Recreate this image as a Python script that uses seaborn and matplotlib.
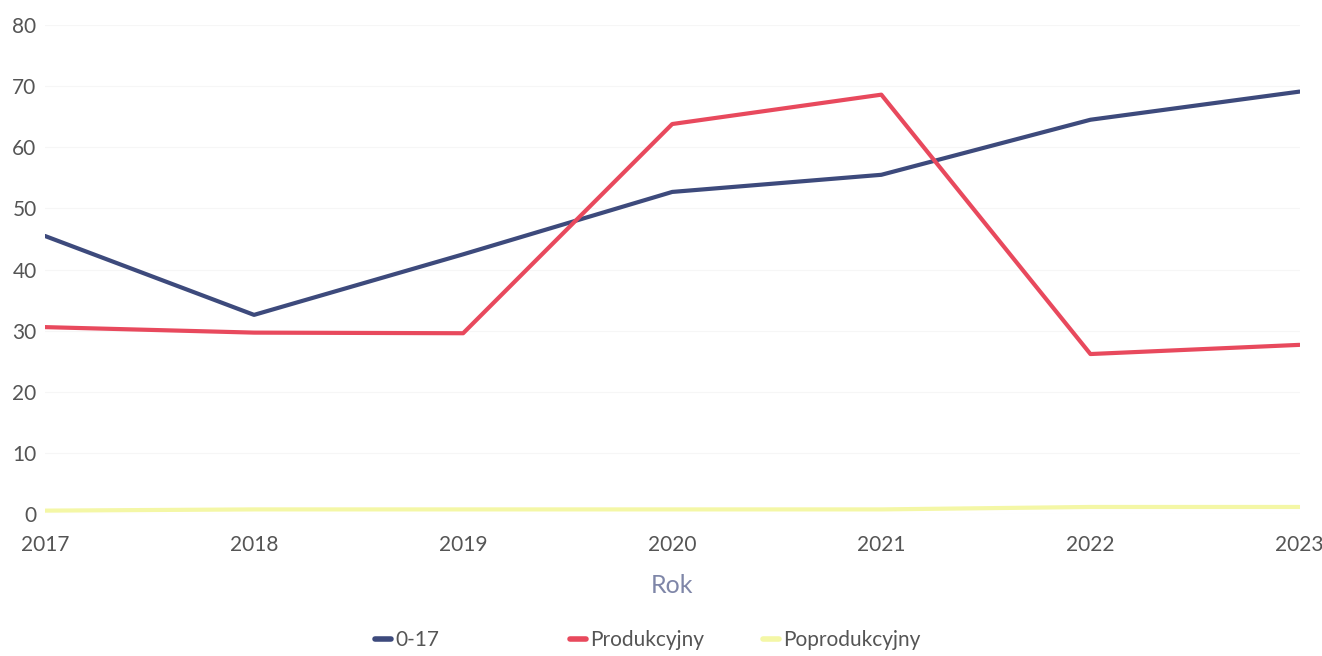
import pandas as pd
import matplotlib.pyplot as plt
import seaborn as sns

years = [2017, 2018, 2019, 2020, 2021, 2022, 2023]
grupa_0_17 = [45.5, 32.6, 42.5, 52.7, 55.5, 64.5, 69.1]
produkcyjny = [30.6, 29.7, 29.6, 63.8, 68.6, 26.2, 27.7]
poprodukcyjny = [0.6, 0.8, 0.8, 0.8, 0.8, 1.2, 1.2]

series = ['0-17', 'Produkcyjny', 'Poprodukcyjny']
colors = ['#3d4a7c', '#e8495d', '#f4f7a6']

data = pd.DataFrame({
    'Rok': years * 3,
    'value': grupa_0_17 + produkcyjny + poprodukcyjny,
    'seria': [s for s in series for _ in years],
})

sns.set_style('white')
plt.rcParams['font.family'] = ['Lato', 'DejaVu Sans']

fig, ax = plt.subplots(figsize=(13.22, 6.56), dpi=100)
fig.subplots_adjust(left=0.034, right=0.983, top=0.962, bottom=0.216)

sns.lineplot(data=data, x='Rok', y='value', hue='seria', palette=colors,
             hue_order=series, linewidth=3, ax=ax, legend=False)

ax.set_xlim(2017, 2023)
ax.set_ylim(0, 80)
ax.set_yticks(range(0, 81, 10))
ax.set_xticks(years)
ax.grid(axis='y', color='#f6f6f6', linewidth=0.8)
for side in ['top', 'right', 'left', 'bottom']:
    ax.spines[side].set_visible(False)
ax.tick_params(axis='both', length=0, labelsize=15, labelcolor='#555555')
ax.tick_params(axis='x', pad=22)
ax.tick_params(axis='y', pad=6)
for lbl in ax.get_xticklabels():
    lbl.set_verticalalignment('center')
ax.set_ylabel('')
ax.set_xlabel('Rok', fontsize=18, color='#7f86a8', labelpad=14)

# one legend per entry so the entries sit at even spacing like the original
legend_x = [356, 551, 744]
for name, c, x in zip(series, colors, legend_x):
    h = plt.Line2D([], [], color=c, linewidth=4)
    fig.legend([h], [name], loc='center left', bbox_to_anchor=(x / 1322, 1 - 640 / 656),
               frameon=False, fontsize=15, handlelength=0.8, handletextpad=0.2,
               labelcolor='#555555')

fig.savefig('out.png')
